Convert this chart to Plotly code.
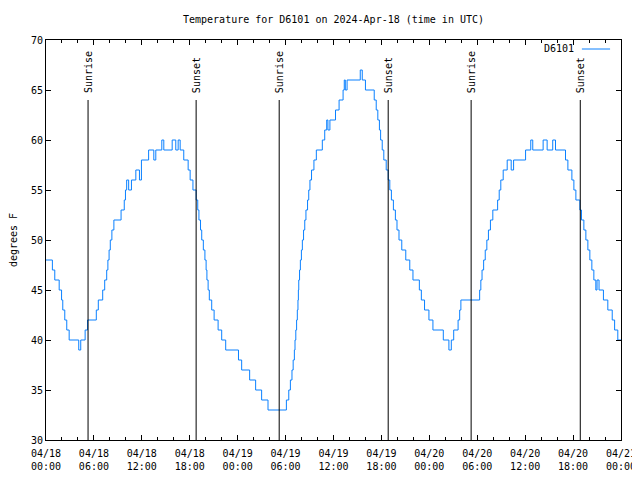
import pandas as pd
import plotly.graph_objects as go

# Hours since 2024-04-18 00:00 UTC at which each new reading starts
hours = [0.00, 0.80, 1.10, 1.65, 1.95, 2.10, 2.35, 2.60, 2.90, 4.10, 4.35, 4.90, 5.20,
         6.30, 6.55, 7.10, 7.35, 7.60, 7.75, 7.90, 8.05, 8.25, 8.50, 9.40, 9.80, 9.95,
         10.10, 10.35, 10.70, 11.25, 11.70, 11.95, 12.85, 13.50, 13.75, 14.50, 14.75,
         15.80, 16.25, 16.55, 16.80, 17.25, 17.80, 18.05, 18.40, 18.80, 19.00, 19.15,
         19.35, 19.50, 19.70, 19.90, 20.05, 20.15, 20.30, 20.45, 20.75, 21.05, 21.55,
         22.00, 22.50, 24.10, 24.50, 25.50, 26.25, 27.00, 27.80, 30.10, 30.40, 30.60,
         30.80, 30.95, 31.10, 31.18, 31.28, 31.38, 31.47, 31.55, 31.60, 31.65, 31.75,
         31.85, 31.98, 32.10, 32.25, 32.40, 32.55, 32.75, 32.90, 33.05, 33.25, 33.55,
         33.85, 34.60, 34.90, 35.15, 35.30, 35.55, 36.25, 36.70, 37.20, 37.35, 37.48,
         37.70, 39.35, 39.60, 40.00, 41.10, 41.35, 41.55, 41.75, 41.90, 42.10, 42.30,
         42.60, 42.85, 43.05, 43.25, 43.50, 43.75, 43.95, 44.20, 44.55, 45.05, 45.55,
         45.95, 46.75, 47.00, 47.40, 47.95, 48.45, 49.75, 50.45, 50.75, 51.05, 51.60,
         51.80, 51.95, 54.30, 54.45, 54.60, 54.80, 55.00, 55.20, 55.40, 55.65, 55.95,
         56.55, 56.75, 56.95, 57.25, 57.75, 58.25, 58.55, 60.05, 60.70, 60.95, 62.25,
         62.75, 63.45, 63.80, 65.05, 65.35, 65.85, 66.10, 66.35, 66.85, 67.05, 67.35,
         67.60, 67.85, 68.10, 68.35, 68.60, 68.85, 69.00, 69.25, 69.80, 70.35, 70.90,
         71.20, 71.60, 72.00]
temps = [48, 47, 46, 45, 44, 43, 42, 41, 40, 39, 40, 41, 42,
         43, 44, 45, 46, 47, 48, 49, 50, 51, 52, 53, 54, 55,
         56, 55, 56, 57, 56, 58, 59, 58, 59, 60, 59,
         60, 59, 60, 59, 58, 57, 56, 55, 54, 53, 52,
         51, 50, 49, 48, 47, 46, 45, 44, 43, 42, 41,
         40, 39, 38, 37, 36, 35, 34, 33, 34, 35, 36,
         37, 38, 39, 40, 41, 42, 43, 44, 45, 46, 47,
         48, 49, 50, 51, 52, 53, 54, 55, 56, 57, 58,
         59, 60, 61, 62, 61, 62, 63, 64, 65, 66, 65,
         66, 67, 66, 65, 64, 63, 62, 61, 60, 59, 58,
         57, 56, 55, 54, 53, 52, 51, 50, 49, 48, 47,
         46, 45, 44, 43, 42, 41, 40, 39, 40, 41, 42,
         43, 44, 45, 46, 47, 48, 49, 50, 51, 52, 53,
         54, 55, 56, 57, 58, 57, 58, 59, 60, 59, 60,
         59, 60, 59, 58, 57, 56, 55, 54, 53, 52, 51,
         50, 49, 48, 47, 46, 45, 46, 45, 44, 43, 42,
         41, 40, 40]

sun_times = ["2024-04-18 05:16", "2024-04-18 18:48", "2024-04-19 05:12",
             "2024-04-19 18:51", "2024-04-20 05:14", "2024-04-20 18:54"]
sun_labels = ["Sunrise", "Sunset", "Sunrise", "Sunset", "Sunrise", "Sunset"]

tick_vals = ["2024-04-18 00:00", "2024-04-18 06:00", "2024-04-18 12:00", "2024-04-18 18:00",
             "2024-04-19 00:00", "2024-04-19 06:00", "2024-04-19 12:00", "2024-04-19 18:00",
             "2024-04-20 00:00", "2024-04-20 06:00", "2024-04-20 12:00", "2024-04-20 18:00",
             "2024-04-21 00:00"]
tick_text = ["04/18<br>00:00", "04/18<br>06:00", "04/18<br>12:00", "04/18<br>18:00",
             "04/19<br>00:00", "04/19<br>06:00", "04/19<br>12:00", "04/19<br>18:00",
             "04/20<br>00:00", "04/20<br>06:00", "04/20<br>12:00", "04/20<br>18:00",
             "04/21<br>00:00"]

start = pd.Timestamp("2024-04-18 00:00")
times = start + pd.to_timedelta(hours, unit="h")

FONT = "DejaVu Sans Mono"
BLUE = "#0a80ff"

fig = go.Figure()
fig.add_trace(go.Scatter(x=times, y=temps, mode="lines", line_shape="hv",
                         line=dict(color=BLUE, width=1), name="D6101", showlegend=False))

for t, lab in zip(sun_times, sun_labels):
    fig.add_shape(type="line", x0=t, x1=t, y0=30, y1=64, xref="x", yref="y",
                  line=dict(color="black", width=1))
    fig.add_annotation(x=t, y=64, xref="x", yref="y", text=lab, textangle=-90,
                       showarrow=False, yanchor="bottom", xanchor="center", yshift=5,
                       font=dict(family=FONT, size=10, color="black"))

# legend (gnuplot style: text then line sample)
fig.add_annotation(x=0.921, y=0.9775, xref="paper", yref="paper", text="D6101",
                   showarrow=False, xanchor="right", yanchor="middle",
                   font=dict(family=FONT, size=10, color="black"))
fig.add_shape(type="line", x0=0.932, x1=0.981, y0=0.9775, y1=0.9775,
              xref="paper", yref="paper", line=dict(color=BLUE, width=1))

# the page body adds an 8px margin on every side, so the figure is sized to fit
fig.update_layout(
    width=632, height=464,
    margin=dict(l=38, r=19, t=32, b=32, autoexpand=False),
    paper_bgcolor="white", plot_bgcolor="white",
    font=dict(family=FONT, size=10, color="black"),
    title=dict(text="Temperature for D6101 on 2024-Apr-18 (time in UTC)",
               x=0.5, xref="paper", y=1 - 11 / 464, yref="container",
               xanchor="center", yanchor="middle",
               font=dict(family=FONT, size=10, color="black")),
)
fig.update_xaxes(range=["2024-04-18 00:00", "2024-04-21 00:00"],
                 tickvals=tick_vals, ticktext=tick_text, automargin=False,
                 ticklabeloverflow="allow",
                 ticks="inside", ticklen=5, tickcolor="black", tickwidth=1,
                 ticklabelstandoff=4,
                 showline=True, linecolor="black", linewidth=1, mirror="allticks",
                 showgrid=False, zeroline=False,
                 minor=dict(dtick=2 * 3600 * 1000, ticks="inside", ticklen=3,
                            tickcolor="black", showgrid=False),
                 tickfont=dict(family=FONT, size=10, color="black"))
fig.update_yaxes(range=[30, 70], dtick=5, tick0=30, automargin=False,
                 ticks="inside", ticklen=5, tickcolor="black", tickwidth=1,
                 showline=True, linecolor="black", linewidth=1, mirror="allticks",
                 showgrid=False, zeroline=False,
                 title=dict(text="degrees F", standoff=14,
                            font=dict(family=FONT, size=10, color="black")),
                 tickfont=dict(family=FONT, size=10, color="black"))

fig.write_html("out.html")
